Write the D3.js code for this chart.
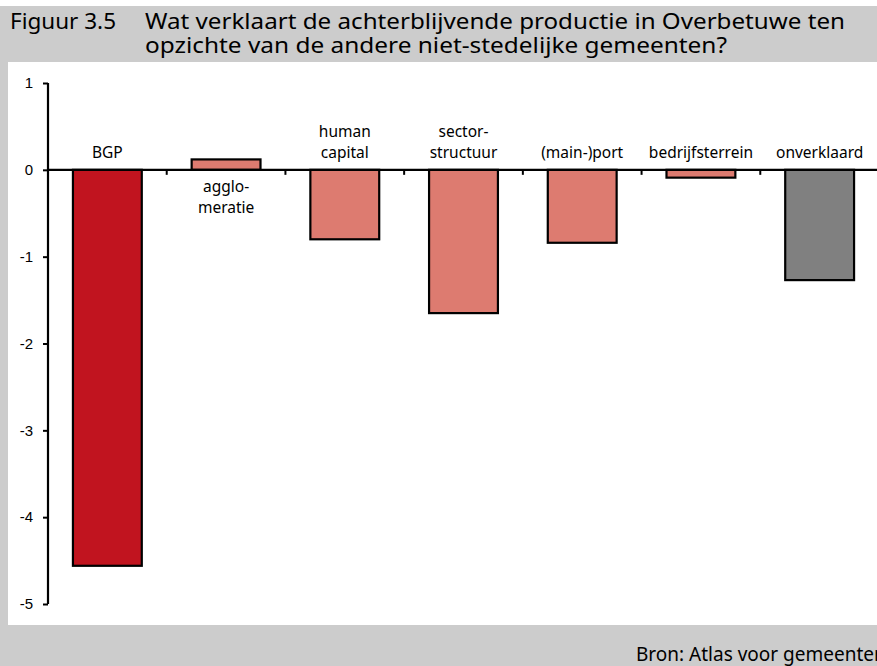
<!DOCTYPE html>
<html>
<head>
<meta charset="utf-8">
<script src="https://cdn.jsdelivr.net/npm/d3@7"></script>
<style>
  body { margin: 0; background: #cccccc; }
</style>
</head>
<body>
<div id="chart"></div>
<script>
// Data
const categories = ["BGP", "agglomeratie", "human capital", "sector-structuur", "(main-)port", "bedrijfsterrein", "onverklaard"];
const labelLines = [["BGP"], ["agglo-", "meratie"], ["human", "capital"], ["sector-", "structuur"], ["(main-)port"], ["bedrijfsterrein"], ["onverklaard"]];
const values = [-4.56, 0.12, -0.80, -1.65, -0.84, -0.09, -1.27];
const barColors = ["#c1141f", "#dd7b70", "#dd7b70", "#dd7b70", "#dd7b70", "#dd7b70", "#808080"];
const yTicks = [1, 0, -1, -2, -3, -4, -5];

const width = 877;
const height = 666;
const marginLeft = 48;
const plotRight = 879;

const data = categories.map((c, i) => ({ cat: c, lines: labelLines[i], value: values[i], color: barColors[i] }));

const svg = d3.select("#chart").append("svg")
    .attr("width", width)
    .attr("height", height)
    .style("display", "block");

// background panels
svg.append("rect").attr("width", width).attr("height", height).attr("fill", "#cccccc");
svg.append("rect").attr("width", width).attr("height", 6).attr("fill", "#ffffff");
svg.append("rect").attr("x", 8).attr("y", 62).attr("width", width - 8).attr("height", 563).attr("fill", "#ffffff");

// title
const titleFont = "'Noto Sans', 'Open Sans', sans-serif";
svg.append("text").attr("x", 10).attr("y", 29)
    .style("font-family", titleFont).style("font-size", "22px").attr("fill", "#000")
    .attr("textLength", 106).attr("lengthAdjust", "spacingAndGlyphs")
    .text("Figuur 3.5");
svg.append("text").attr("x", 145).attr("y", 29)
    .style("font-family", titleFont).style("font-size", "22px").attr("fill", "#000")
    .attr("textLength", 700).attr("lengthAdjust", "spacingAndGlyphs")
    .text("Wat verklaart de achterblijvende productie in Overbetuwe ten");
svg.append("text").attr("x", 145).attr("y", 53)
    .style("font-family", titleFont).style("font-size", "22px").attr("fill", "#000")
    .attr("textLength", 582).attr("lengthAdjust", "spacingAndGlyphs")
    .text("opzichte van de andere niet-stedelijke gemeenten?");

// scales
const x = d3.scaleBand()
    .domain(categories)
    .range([marginLeft, plotRight])
    .paddingInner(0.42)
    .paddingOuter(0.21);

const y = d3.scaleLinear()
    .domain([1, -5])
    .range([83, 604]);

// bars
svg.append("g")
  .selectAll("rect")
  .data(data)
  .join("rect")
    .attr("x", d => x(d.cat))
    .attr("y", d => y(Math.max(0, d.value)))
    .attr("width", x.bandwidth())
    .attr("height", d => Math.abs(y(d.value) - y(0)))
    .attr("fill", d => d.color)
    .attr("stroke", "#000")
    .attr("stroke-width", 2.2);

// y axis
const yAxis = svg.append("g")
    .attr("transform", `translate(${marginLeft},0)`)
    .call(d3.axisLeft(y).tickValues(yTicks).tickSize(5).tickPadding(10).tickFormat(d => String(d)));
yAxis.select(".domain").attr("stroke-width", 2.2).attr("d", `M0,${y(1)}V${y(-5)}`);
yAxis.selectAll(".tick line").attr("stroke-width", 2);
yAxis.selectAll(".tick text")
    .style("font-family", "'Liberation Sans', Arial, sans-serif")
    .style("font-size", "15px");

// zero line with category separators
const sep = d3.range(categories.length + 1).map(i => x(categories[0]) - x.step() * x.paddingOuter() + i * x.step());
svg.append("line")
    .attr("x1", marginLeft).attr("x2", width)
    .attr("y1", y(0)).attr("y2", y(0))
    .attr("stroke", "#000").attr("stroke-width", 2.2);
svg.append("g").selectAll("line")
  .data(sep.slice(1))
  .join("line")
    .attr("x1", d => d).attr("x2", d => d)
    .attr("y1", y(0)).attr("y2", y(0) + 5)
    .attr("stroke", "#000").attr("stroke-width", 2);

// category labels
const labelFont = "'Noto Sans', 'Open Sans', sans-serif";
const labels = svg.append("g").selectAll("text")
  .data(data)
  .join("text")
    .attr("text-anchor", "middle")
    .style("font-family", labelFont)
    .style("font-size", "15.5px")
    .attr("fill", "#000");
labels.each(function(d) {
  const t = d3.select(this);
  const cx = x(d.cat) + x.bandwidth() / 2;
  const n = d.lines.length;
  d.lines.forEach((line, i) => {
    let yy;
    if (d.value >= 0) yy = y(0) + 22 + i * 21;
    else yy = y(0) - 12 - (n - 1 - i) * 21;
    t.append("tspan").attr("x", cx).attr("y", yy).text(line);
  });
});

// source
svg.append("text").attr("x", 636).attr("y", 661)
    .style("font-family", labelFont).style("font-size", "19px")
    .text("Bron: Atlas voor gemeenten");
</script>
</body>
</html>
